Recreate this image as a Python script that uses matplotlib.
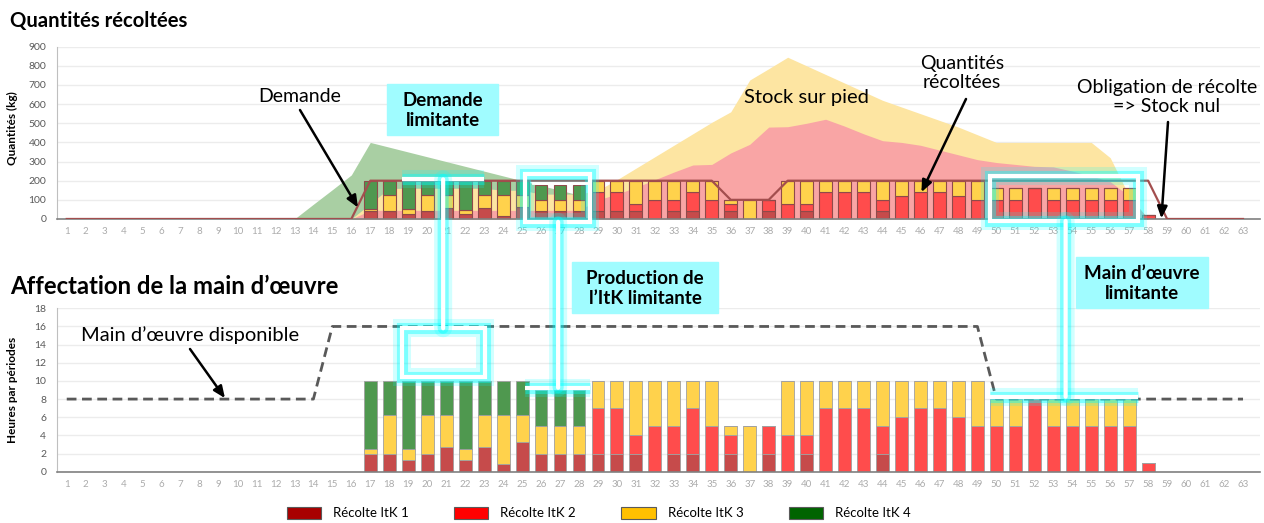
import matplotlib
matplotlib.use('Agg')
import matplotlib.pyplot as plt
import matplotlib.patheffects as pe
from matplotlib.patches import Rectangle, ConnectionPatch, Patch

plt.rcParams['font.family'] = ['Lato', 'DejaVu Sans']

# --- data -------------------------------------------------------------
periods = list(range(1, 64))
bar_periods = list(range(17, 59))

# heures par periode (graph du bas), periodes 17..58
h_itk1 = [2, 2, 1.3, 2, 2.75, 1.25, 2.75, 0.8, 3.25, 2, 2, 2,
          2, 2, 2, 0, 2, 2, 0, 2, 0, 2, 0, 2,
          0, 0, 0, 2, 0, 0, 0, 0, 0, 0, 0, 0, 0, 0, 0, 0, 0, 0]
h_itk2 = [0, 0, 0, 0, 0, 0, 0, 0, 0, 0, 0, 0,
          5, 5, 2, 5, 3, 5, 5, 2, 0, 3, 4, 2,
          7, 7, 7, 3, 6, 7, 7, 6, 5, 5, 5, 8, 5, 5, 5, 5, 5, 1]
h_itk3 = [0.5, 4.2, 1.2, 4.2, 3.45, 1.2, 3.45, 5.4, 2.95, 3, 3, 3,
          3, 3, 6, 5, 5, 3, 5, 1, 5, 0, 6, 6,
          3, 3, 3, 5, 4, 3, 3, 4, 5, 3, 3, 0, 3, 3, 3, 3, 3, 0]
h_itk4 = [7.5, 3.8, 7.5, 3.8, 3.8, 7.55, 3.8, 3.8, 3.8, 4, 4, 4,
          0, 0, 0, 0, 0, 0, 0, 0, 0, 0, 0, 0,
          0, 0, 0, 0, 0, 0, 0, 0, 0, 0, 0, 0, 0, 0, 0, 0, 0, 0]

# quantites recoltees (kg, graph du haut), periodes 17..58
q_itk1 = [40, 40, 26, 40, 55, 25, 55, 16, 65, 40, 40, 40,
          40, 40, 40, 0, 40, 40, 0, 40, 0, 40, 0, 40,
          0, 0, 0, 40, 0, 0, 0, 0, 0, 0, 0, 0, 0, 0, 0, 0, 0, 0]
q_itk2 = [0, 0, 0, 0, 0, 0, 0, 0, 0, 0, 0, 0,
          100, 100, 40, 100, 60, 100, 100, 40, 0, 60, 80, 40,
          140, 140, 140, 60, 120, 140, 140, 120, 100, 100, 100, 160,
          100, 100, 100, 100, 100, 20]
q_itk3 = [10, 84, 24, 84, 69, 24, 69, 108, 59, 60, 60, 60,
          60, 60, 120, 100, 100, 60, 100, 20, 100, 0, 120, 120,
          60, 60, 60, 100, 80, 60, 60, 80, 100, 60, 60, 0, 60, 60, 60, 60, 60, 0]
q_itk4 = [150, 76, 150, 76, 76, 151, 76, 76, 76, 80, 80, 80,
          0, 0, 0, 0, 0, 0, 0, 0, 0, 0, 0, 0,
          0, 0, 0, 0, 0, 0, 0, 0, 0, 0, 0, 0, 0, 0, 0, 0, 0, 0]

# stock sur pied (kg)
green_periods = list(range(13, 30))
stock_green = [0, 77, 153, 230, 400, 375, 350, 325, 300, 275, 250, 225,
               200, 175, 150, 125, 0]
stock_periods = list(range(16, 59))
stock_yellow = [0, 80, 160, 160, 160, 160, 160, 160, 150, 150, 130, 130, 130,
                150, 205, 265, 325, 385, 445, 505, 560, 726, 785, 845,
                800, 755, 710, 665, 620, 585, 550, 515, 480, 440,
                400, 400, 400, 400, 400, 400, 320, 120, 0]
stock_red = [0, 45, 45, 45, 45, 45, 45, 45, 45, 45, 45, 45, 45,
             100, 130, 165, 205, 245, 282, 285, 345, 390, 480, 482,
             500, 521, 485, 445, 409, 400, 385, 360, 335, 310,
             295, 285, 275, 272, 250, 225, 195, 120, 0]

demande = [0] * 16 + [200] * 19 + [100] * 3 + [200] * 20 + [0] * 5
main_oeuvre = [8] * 14 + [16] * 35 + [8] * 14

labels = ['Récolte ItK 1', 'Récolte ItK 2', 'Récolte ItK 3', 'Récolte ItK 4']
colors = ['#c64b4b', '#ff4c4c', '#ffd24c', '#4f984f']
legend_colors = ['#a80000', '#ff0000', '#ffc000', '#006400']

# --- figure -----------------------------------------------------------
fig = plt.figure(figsize=(12.64, 5.23), dpi=100)
ax1 = fig.add_axes([0.0453, 0.5813, 0.9516, 0.3294])
ax2 = fig.add_axes([0.0453, 0.0981, 0.9516, 0.3124])


def style_axes(ax, ymax, ystep):
    ax.set_xlim(0.5, 63.9)
    ax.set_ylim(0, ymax)
    ax.set_xticks(periods)
    ax.set_yticks(range(0, ymax + 1, ystep))
    ax.tick_params(axis='x', length=0, labelsize=7, labelcolor='#ababab', pad=6)
    ax.tick_params(axis='y', length=0, labelsize=7.5, labelcolor='#595959', pad=8)
    for s in ['top', 'right']:
        ax.spines[s].set_visible(False)
    ax.spines['left'].set_color('#bfbfbf')
    ax.spines['bottom'].set_color('#808080')
    ax.spines['bottom'].set_linewidth(1.2)
    ax.yaxis.grid(True, color='#ececec', lw=1)
    ax.set_axisbelow(True)


def glow(artist, width=3):
    artist.set_path_effects([
        pe.Stroke(linewidth=width + 10, foreground='#00ffff', alpha=0.18),
        pe.Stroke(linewidth=width + 5, foreground='#00ffff', alpha=0.4),
        pe.Normal()])
    return artist


style_axes(ax1, 900, 100)
style_axes(ax2, 18, 2)

# stock sur pied
ax1.fill_between(green_periods, stock_green, color='#a9cfa3', lw=0, zorder=1)
ax1.fill_between(stock_periods, stock_yellow, color='#fde5a2', lw=0, zorder=1.1)
ax1.fill_between(stock_periods, stock_red, color='#f9a5a5', lw=0, zorder=1.2)

# quantites recoltees
bottom = [0] * len(bar_periods)
for vals, c in zip([q_itk1, q_itk2, q_itk3, q_itk4], colors):
    ax1.bar(bar_periods, vals, width=0.68, bottom=bottom, color=c,
            edgecolor='#8f4a4a', linewidth=0.8, zorder=2)
    bottom = [b + v for b, v in zip(bottom, vals)]

ax1.plot(periods, demande, color='#a34e4e', lw=1.6, zorder=3)

# heures
bottom = [0] * len(bar_periods)
for vals, c in zip([h_itk1, h_itk2, h_itk3, h_itk4], colors):
    ax2.bar(bar_periods, vals, width=0.68, bottom=bottom, color=c,
            edgecolor='#a0a0a0', linewidth=0.6, zorder=2)
    bottom = [b + v for b, v in zip(bottom, vals)]

ax2.plot(periods, main_oeuvre, color='#595959', lw=2, ls=(0, (3.5, 2)), zorder=3)

# axis labels
ax1.set_ylabel('Quantités (kg)', fontsize=8.5, fontweight='bold')
ax1.yaxis.set_label_coords(-0.033, 0.53)
ax2.set_ylabel('Heures par périodes', fontsize=8.5, fontweight='bold')
ax2.yaxis.set_label_coords(-0.033, 0.5)

# titles
fig.text(10 / 1264, 1 - 21 / 523, 'Quantités récoltées', fontsize=14.6,
         fontweight='bold', va='center', ha='left')
fig.text(10 / 1264, 1 - 286 / 523, 'Affectation de la main d’œuvre', fontsize=17.2,
         fontweight='bold', va='center', ha='left')


def fp(x, y):
    return (x / 1264, 1 - y / 523)


arrow = dict(arrowstyle='-|>,head_length=0.7,head_width=0.3', color='black',
             lw=1.8, shrinkA=0, shrinkB=0)

# annotations top
fig.text(*fp(300, 97), 'Demande', fontsize=14, ha='center', va='center')
ax1.annotate('', xy=(16.35, 60), xytext=fp(300, 110), textcoords='figure fraction',
             arrowprops=arrow, zorder=8, annotation_clip=False)
fig.text(*fp(806, 98), 'Stock sur pied', fontsize=14.5, ha='center', va='center')
fig.text(*fp(962, 73), 'Quantités\nrécoltées', fontsize=14, ha='center',
         va='center', linespacing=1.2)
ax1.annotate('', xy=(46.05, 140), xytext=fp(966, 99), textcoords='figure fraction',
             arrowprops=arrow, zorder=8, annotation_clip=False)
fig.text(*fp(1167, 97), 'Obligation de récolte\n=> Stock nul', fontsize=14,
         ha='center', va='center', linespacing=1.2)
ax1.annotate('', xy=(58.7, 3), xytext=fp(1168, 122), textcoords='figure fraction',
             arrowprops=arrow, zorder=8, annotation_clip=False)

# annotation bottom
fig.text(*fp(190, 335), 'Main d’œuvre disponible', fontsize=14.5, ha='center',
         va='center')
ax2.annotate('', xy=(9.34, 8.1), xytext=fp(190, 349), textcoords='figure fraction',
             arrowprops=arrow, zorder=8, annotation_clip=False)

# cyan boxes
for (x0, y0, x1, y1), txt in [((387, 84, 498, 135), 'Demande\nlimitante'),
                              ((572, 262, 718, 313), 'Production de\nl’ItK limitante'),
                              ((1076, 257, 1208, 308), 'Main d’œuvre\nlimitante')]:
    fig.add_artist(Rectangle(fp(x0, y1), (x1 - x0) / 1264, (y1 - y0) / 523,
                             transform=fig.transFigure, color='#a0fcff', zorder=5))
    fig.text(*fp((x0 + x1) / 2, (y0 + y1) / 2 + 1), txt, fontsize=13.5,
             fontweight='bold', ha='center', va='center', linespacing=1.2, zorder=6)

# glow highlights
hl = dict(color='white', lw=3, solid_capstyle='butt', clip_on=False, zorder=6)
glow(ax1.plot([18.65, 23.0], [207, 207], **hl)[0])
glow(ax1.add_patch(Rectangle((25.15, -15), 3.45, 250, fill=False, ec='white',
                             lw=3, clip_on=False, zorder=6)))
ax1.plot([25.6, 28.4], [186, 186], color='white', lw=2, zorder=6)
glow(ax1.add_patch(Rectangle((49.65, -10), 7.8, 235, fill=False, ec='white',
                             lw=3, clip_on=False, zorder=6)))

glow(ax2.add_patch(Rectangle((18.65, 10.46), 4.4, 5.34, fill=False, ec='white',
                             lw=3, clip_on=False, zorder=6)))
glow(ax2.plot([25.15, 28.6], [9.25, 9.25], **hl)[0])
glow(ax2.plot([49.65, 57.46], [8.26, 8.26], **hl)[0])

for xa, ya, yb in [(20.84, 207, 15.8), (26.9, -15, 9.25), (53.65, -10, 8.26)]:
    con = ConnectionPatch(xyA=(xa, ya), coordsA=ax1.transData,
                          xyB=(xa, yb), coordsB=ax2.transData,
                          color='white', lw=3, zorder=6)
    fig.add_artist(glow(con))

# legend
handles = [Patch(facecolor=c, edgecolor='#5a5a5a', lw=0.8) for c in legend_colors]
fig.legend(handles, labels, loc='center', bbox_to_anchor=(0.4736, 1 - 513 / 523),
           ncol=4, frameon=False, fontsize=9.5, handlelength=2.6, handleheight=1.0,
           handletextpad=0.9, columnspacing=3.45)

fig.savefig('out.png', dpi=100)
